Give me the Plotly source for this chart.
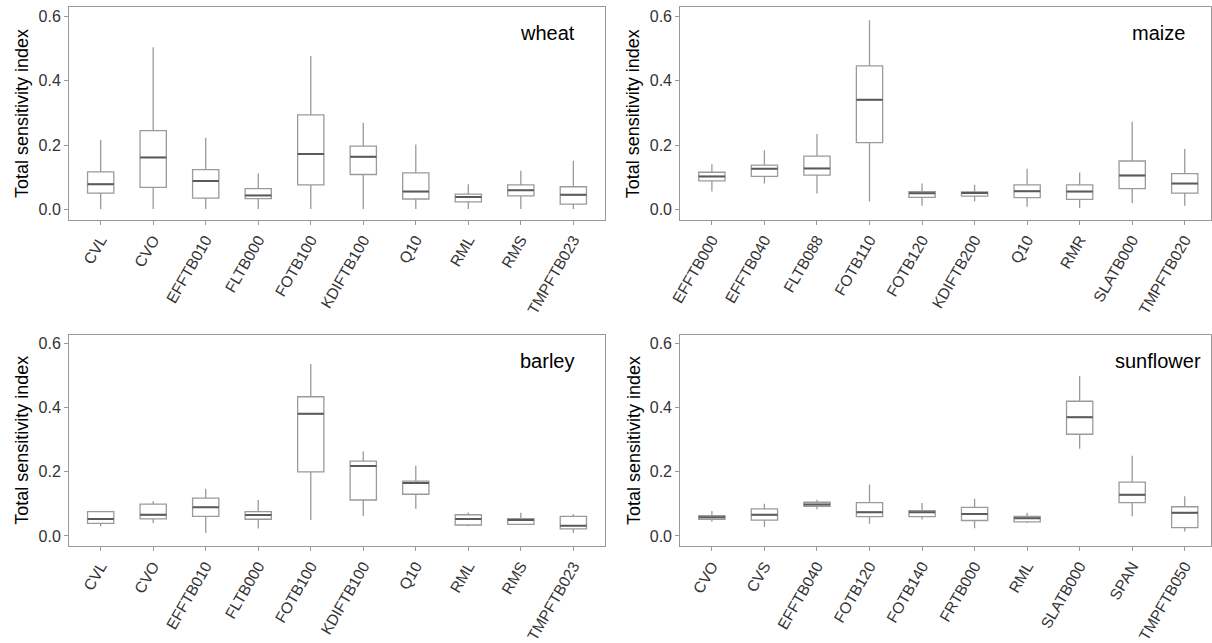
import plotly.graph_objects as go

# ---- data: five-number summaries of the total sensitivity index per crop ----
wheat_params = ["CVL", "CVO", "EFFTB010", "FLTB000", "FOTB100", "KDIFTB100", "Q10", "RML", "RMS", "TMPFTB023"]
wheat_low = [0.002, 0.002, 0.002, 0.002, 0.002, 0.002, 0.002, 0.002, 0.002, 0.002]
wheat_q1 = [0.051, 0.069, 0.036, 0.034, 0.077, 0.109, 0.033, 0.024, 0.043, 0.017]
wheat_med = [0.079, 0.162, 0.089, 0.044, 0.173, 0.164, 0.056, 0.039, 0.060, 0.046]
wheat_q3 = [0.117, 0.245, 0.124, 0.065, 0.294, 0.197, 0.114, 0.048, 0.077, 0.071]
wheat_high = [0.216, 0.504, 0.223, 0.112, 0.477, 0.270, 0.202, 0.079, 0.121, 0.152]

maize_params = ["EFFTB000", "EFFTB040", "FLTB088", "FOTB110", "FOTB120", "KDIFTB200", "Q10", "RMR", "SLATB000", "TMPFTB020"]
maize_low = [0.056, 0.081, 0.050, 0.025, 0.012, 0.025, 0.009, 0.005, 0.020, 0.012]
maize_q1 = [0.089, 0.103, 0.107, 0.208, 0.038, 0.042, 0.037, 0.032, 0.065, 0.051]
maize_med = [0.103, 0.127, 0.128, 0.341, 0.051, 0.052, 0.057, 0.056, 0.106, 0.081]
maize_q3 = [0.116, 0.138, 0.166, 0.446, 0.056, 0.055, 0.077, 0.077, 0.151, 0.112]
maize_high = [0.141, 0.184, 0.235, 0.588, 0.081, 0.077, 0.127, 0.115, 0.273, 0.188]

barley_params = ["CVL", "CVO", "EFFTB010", "FLTB000", "FOTB100", "KDIFTB100", "Q10", "RML", "RMS", "TMPFTB023"]
barley_low = [0.030, 0.040, 0.009, 0.023, 0.050, 0.062, 0.085, 0.030, 0.034, 0.010]
barley_q1 = [0.039, 0.053, 0.061, 0.052, 0.200, 0.112, 0.130, 0.034, 0.036, 0.022]
barley_med = [0.053, 0.066, 0.089, 0.065, 0.381, 0.218, 0.165, 0.053, 0.050, 0.032]
barley_q3 = [0.076, 0.099, 0.118, 0.076, 0.434, 0.233, 0.171, 0.066, 0.054, 0.061]
barley_high = [0.076, 0.108, 0.147, 0.112, 0.536, 0.263, 0.219, 0.073, 0.072, 0.068]

sunflower_params = ["CVO", "CVS", "EFFTB040", "FOTB120", "FOTB140", "FRTB000", "RML", "SLATB000", "SPAN", "TMPFTB050"]
sunflower_low = [0.044, 0.028, 0.083, 0.038, 0.051, 0.024, 0.040, 0.272, 0.061, 0.014]
sunflower_q1 = [0.052, 0.049, 0.092, 0.060, 0.060, 0.048, 0.044, 0.317, 0.104, 0.026]
sunflower_med = [0.058, 0.066, 0.098, 0.074, 0.074, 0.068, 0.055, 0.370, 0.128, 0.072]
sunflower_q3 = [0.063, 0.084, 0.105, 0.104, 0.079, 0.089, 0.061, 0.420, 0.168, 0.091]
sunflower_high = [0.078, 0.100, 0.113, 0.160, 0.103, 0.116, 0.072, 0.499, 0.250, 0.124]

y_ticks = [0.0, 0.2, 0.4, 0.6]
y_tick_text = ["0.0", "0.2", "0.4", "0.6"]

W, H = 1212, 643
FONT = "Liberation Sans, Arial, sans-serif"
BOX_WIDTH = 0.5

panels = [
    # name, params, low, q1, med, q3, high, x-domain px, y-domain px (top, bottom), x range
    ("wheat", wheat_params, wheat_low, wheat_q1, wheat_med, wheat_q3, wheat_high,
     (58.7, 599.3), (7.5, 224.5), (-0.6, 9.6)),
    ("maize", maize_params, maize_low, maize_q1, maize_med, maize_q3, maize_high,
     (675.5, 1211.0), (7.5, 224.5), (-0.6, 9.5)),
    ("barley", barley_params, barley_low, barley_q1, barley_med, barley_q3, barley_high,
     (58.7, 599.3), (342.0, 558.0), (-0.6, 9.6)),
    ("sunflower", sunflower_params, sunflower_low, sunflower_q1, sunflower_med, sunflower_q3, sunflower_high,
     (675.5, 1211.0), (342.0, 558.0), (-0.6, 9.5)),
]

fig = go.Figure()
layout = dict(
    width=W, height=H,
    margin=dict(l=0, r=0, t=0, b=0),
    paper_bgcolor="white", plot_bgcolor="white",
    showlegend=False,
    font=dict(family=FONT),
    annotations=[],
)

for k, (name, params, low, q1, med, q3, high, xd, yd, xr) in enumerate(panels, start=1):
    xs = list(range(len(params)))
    xa = "x" if k == 1 else f"x{k}"
    ya = "y" if k == 1 else f"y{k}"

    fig.add_trace(go.Box(
        x=xs, q1=q1, median=med, q3=q3, lowerfence=low, upperfence=high,
        width=BOX_WIDTH, whiskerwidth=0, boxpoints=False,
        fillcolor="white", line=dict(color="#9a9a9a", width=1.3),
        xaxis=xa, yaxis=ya, hoverinfo="skip",
    ))

    # darker median bars drawn over each box
    mx, my = [], []
    for i, m in zip(xs, med):
        mx += [i - BOX_WIDTH / 2, i + BOX_WIDTH / 2, None]
        my += [m, m, None]
    fig.add_trace(go.Scatter(
        x=mx, y=my, mode="lines", line=dict(color="#5a5a5a", width=2),
        xaxis=xa, yaxis=ya, hoverinfo="skip",
    ))

    xkey = "xaxis" if k == 1 else f"xaxis{k}"
    ykey = "yaxis" if k == 1 else f"yaxis{k}"
    layout[xkey] = dict(
        domain=[xd[0] / W, xd[1] / W], anchor=ya, range=list(xr),
        tickmode="array", tickvals=xs, ticktext=params, tickangle=-60,
        ticks="outside", ticklen=4, tickcolor="#9a9a9a", tickwidth=1,
        tickfont=dict(family=FONT, size=15.5, color="#333333"),
        showline=True, mirror=True, linecolor="#9a9a9a", linewidth=1.3,
        showgrid=False, zeroline=False, fixedrange=True,
    )
    layout[ykey] = dict(
        domain=[(H - yd[1]) / H, (H - yd[0]) / H], anchor=xa, range=[-0.031, 0.628],
        tickmode="array", tickvals=y_ticks, ticktext=y_tick_text,
        ticks="outside", ticklen=4, tickcolor="#9a9a9a", tickwidth=1,
        tickfont=dict(family=FONT, size=16, color="#333333"),
        showline=True, mirror=True, linecolor="#9a9a9a", linewidth=1.3,
        showgrid=False, zeroline=False, fixedrange=True,
    )

    # y-axis title
    layout["annotations"].append(dict(
        text="Total sensitivity index", textangle=-90,
        xref="paper", yref="paper",
        x=(xd[0] - 47) / W, y=(H - (yd[0] + yd[1]) / 2) / H,
        xanchor="center", yanchor="middle", showarrow=False,
        font=dict(family=FONT, size=18, color="black"),
    ))
    # crop label inside the panel
    layout["annotations"].append(dict(
        text=name, xref=xa, yref=ya, x=8.5, y=0.547,
        xanchor="center", yanchor="middle", showarrow=False,
        font=dict(family=FONT, size=20, color="black"),
    ))

fig.update_layout(**layout)
fig.write_html("out.html")
